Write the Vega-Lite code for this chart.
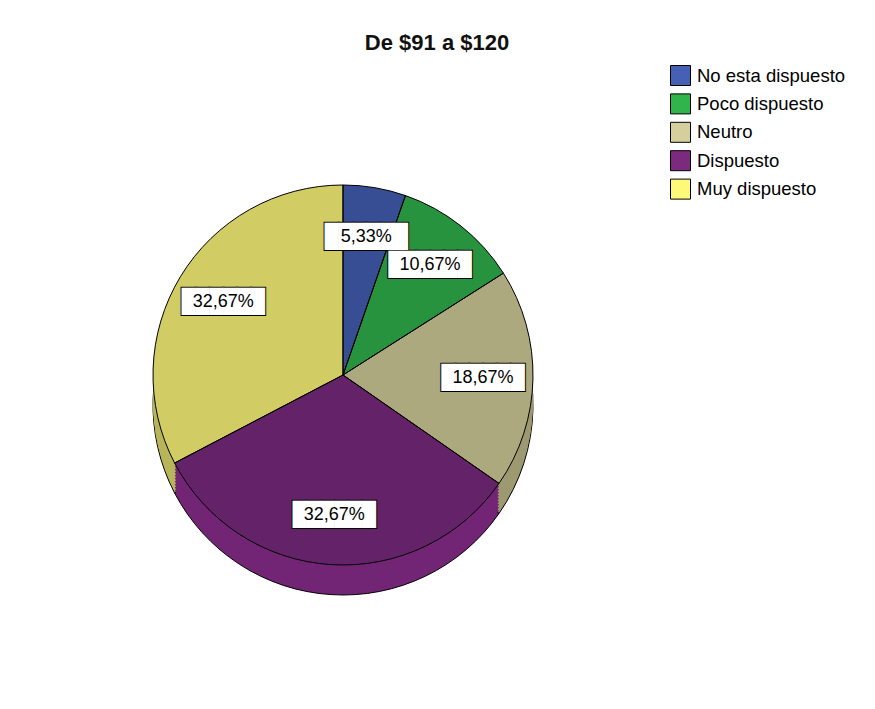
{
  "$schema": "https://vega.github.io/schema/vega-lite/v6.json",
  "autosize": "none",
  "width": 686,
  "height": 580,
  "padding": {"left": 0, "top": 85, "right": 189, "bottom": 44},
  "background": "white",
  "title": {
    "text": "De $91 a $120",
    "font": "Liberation Sans",
    "fontSize": 22,
    "fontWeight": "bold",
    "color": "#111111",
    "anchor": "middle",
    "dx": 94,
    "dy": 23,
    "baseline": "bottom",
    "offset": 11
  },
  "data": {
    "values": [
      {"idx": 1, "cat": "No esta dispuesto", "pct": 0.0533},
      {"idx": 2, "cat": "Poco dispuesto", "pct": 0.1067},
      {"idx": 3, "cat": "Neutro", "pct": 0.1867},
      {"idx": 4, "cat": "Dispuesto", "pct": 0.3267},
      {"idx": 5, "cat": "Muy dispuesto", "pct": 0.3267}
    ]
  },
  "encoding": {
    "theta": {"field": "pct", "type": "quantitative", "stack": true},
    "order": {"field": "idx", "type": "quantitative"}
  },
  "layer": [
    {
      "mark": {"type": "arc", "radius": 190, "yOffset": 30, "stroke": "black", "strokeWidth": 1},
      "encoding": {"color": {"field": "cat", "type": "nominal", "legend": null,
          "scale": {"domain": ["No esta dispuesto", "Poco dispuesto", "Neutro", "Dispuesto", "Muy dispuesto"],
                    "range": ["#34488c", "#28923c", "#9d9a72", "#732575", "#b8b55a"]}}}
    },
    {
      "mark": {"type": "arc", "radius": 190, "yOffset": 27},
      "encoding": {"color": {"field": "cat", "type": "nominal", "legend": null,
          "scale": {"domain": ["No esta dispuesto", "Poco dispuesto", "Neutro", "Dispuesto", "Muy dispuesto"],
                    "range": ["#34488c", "#28923c", "#9d9a72", "#732575", "#b8b55a"]}}}
    },
    {
      "mark": {"type": "arc", "radius": 190, "yOffset": 24},
      "encoding": {"color": {"field": "cat", "type": "nominal", "legend": null,
          "scale": {"domain": ["No esta dispuesto", "Poco dispuesto", "Neutro", "Dispuesto", "Muy dispuesto"],
                    "range": ["#34488c", "#28923c", "#9d9a72", "#732575", "#b8b55a"]}}}
    },
    {
      "mark": {"type": "arc", "radius": 190, "yOffset": 21},
      "encoding": {"color": {"field": "cat", "type": "nominal", "legend": null,
          "scale": {"domain": ["No esta dispuesto", "Poco dispuesto", "Neutro", "Dispuesto", "Muy dispuesto"],
                    "range": ["#34488c", "#28923c", "#9d9a72", "#732575", "#b8b55a"]}}}
    },
    {
      "mark": {"type": "arc", "radius": 190, "yOffset": 18},
      "encoding": {"color": {"field": "cat", "type": "nominal", "legend": null,
          "scale": {"domain": ["No esta dispuesto", "Poco dispuesto", "Neutro", "Dispuesto", "Muy dispuesto"],
                    "range": ["#34488c", "#28923c", "#9d9a72", "#732575", "#b8b55a"]}}}
    },
    {
      "mark": {"type": "arc", "radius": 190, "yOffset": 15},
      "encoding": {"color": {"field": "cat", "type": "nominal", "legend": null,
          "scale": {"domain": ["No esta dispuesto", "Poco dispuesto", "Neutro", "Dispuesto", "Muy dispuesto"],
                    "range": ["#34488c", "#28923c", "#9d9a72", "#732575", "#b8b55a"]}}}
    },
    {
      "mark": {"type": "arc", "radius": 190, "yOffset": 12},
      "encoding": {"color": {"field": "cat", "type": "nominal", "legend": null,
          "scale": {"domain": ["No esta dispuesto", "Poco dispuesto", "Neutro", "Dispuesto", "Muy dispuesto"],
                    "range": ["#34488c", "#28923c", "#9d9a72", "#732575", "#b8b55a"]}}}
    },
    {
      "mark": {"type": "arc", "radius": 190, "yOffset": 9},
      "encoding": {"color": {"field": "cat", "type": "nominal", "legend": null,
          "scale": {"domain": ["No esta dispuesto", "Poco dispuesto", "Neutro", "Dispuesto", "Muy dispuesto"],
                    "range": ["#34488c", "#28923c", "#9d9a72", "#732575", "#b8b55a"]}}}
    },
    {
      "mark": {"type": "arc", "radius": 190, "yOffset": 6},
      "encoding": {"color": {"field": "cat", "type": "nominal", "legend": null,
          "scale": {"domain": ["No esta dispuesto", "Poco dispuesto", "Neutro", "Dispuesto", "Muy dispuesto"],
                    "range": ["#34488c", "#28923c", "#9d9a72", "#732575", "#b8b55a"]}}}
    },
    {
      "mark": {"type": "arc", "radius": 190, "yOffset": 3},
      "encoding": {"color": {"field": "cat", "type": "nominal", "legend": null,
          "scale": {"domain": ["No esta dispuesto", "Poco dispuesto", "Neutro", "Dispuesto", "Muy dispuesto"],
                    "range": ["#34488c", "#28923c", "#9d9a72", "#732575", "#b8b55a"]}}}
    },
    {
      "mark": {"type": "arc", "radius": 190},
      "encoding": {
        "color": {"field": "cat", "type": "nominal",
          "scale": {"domain": ["No esta dispuesto", "Poco dispuesto", "Neutro", "Dispuesto", "Muy dispuesto"],
                    "range": ["#4560b5", "#31b44c", "#d4cf9c", "#7b2a7f", "#fff97a"]},
          "legend": {
            "title": null,
            "orient": "none",
            "legendX": 670,
            "legendY": -20,
            "symbolType": "square",
            "symbolSize": 400,
            "symbolStrokeColor": "black",
            "symbolStrokeWidth": 1,
            "symbolOpacity": 1,
            "labelFont": "Liberation Sans",
            "labelFontSize": 18.5,
            "labelColor": "black",
            "labelOffset": 6,
            "rowPadding": 3.4,
            "padding": 0,
            "labelLimit": 300
          }
        }
      }
    },
    {
      "mark": {"type": "arc", "radius": 190, "fill": "black", "fillOpacity": 0.18, "stroke": "black", "strokeWidth": 1, "strokeOpacity": 1}
    },
    {
      "mark": {"type": "text", "radius": 140, "font": "DejaVu Sans Mono", "fontSize": 23, "baseline": "middle", "align": "center", "fill": "black", "stroke": "black", "strokeWidth": 2},
      "encoding": {"text": {"value": "██████"}}
    },
    {
      "mark": {"type": "text", "radius": 140, "font": "DejaVu Sans Mono", "fontSize": 23, "baseline": "middle", "align": "center", "fill": "white"},
      "encoding": {"text": {"value": "██████"}}
    },
    {
      "mark": {"type": "text", "radius": 140, "font": "Liberation Sans", "fontSize": 18, "baseline": "middle", "align": "center", "fill": "black"},
      "encoding": {"text": {"field": "pct", "type": "quantitative", "format": ".2%"}}
    }
  ],
  "resolve": {"scale": {"color": "independent"}, "legend": {"color": "independent"}},
  "config": {
    "view": {"stroke": null},
    "locale": {"number": {"decimal": ",", "thousands": ".", "grouping": [3], "currency": ["$", ""]}}
  }
}
